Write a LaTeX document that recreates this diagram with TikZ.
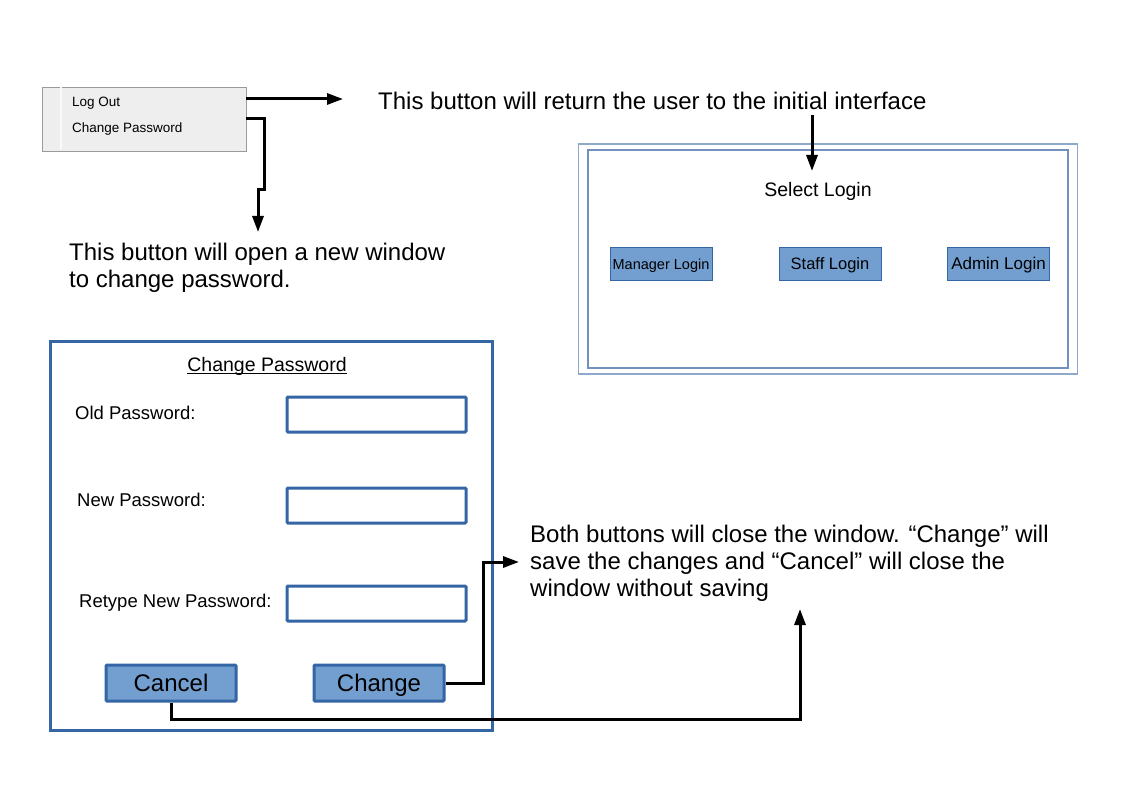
\documentclass[tikz,border=0pt]{standalone}
\usepackage[usenames,dvipsnames]{xcolor}
\usepackage{fontspec}
\setmainfont{Liberation Sans}
\usepackage{tikz}
\usetikzlibrary{arrows.meta,calc,positioning,shapes}
\definecolor{btnfill}{HTML}{729FCF}
\definecolor{btnline}{HTML}{3465A4}
\definecolor{winline}{HTML}{8EA9CC}
\definecolor{wininner}{HTML}{7391BC}
\definecolor{menufill}{HTML}{EEEEEE}
\definecolor{menuline}{HTML}{9A9A9A}

\begin{document}
\begin{tikzpicture}[x=1pt, y=-1pt,
		note/.style={anchor=west, align=left, inner sep=0pt, font=\fontsize{24}{27}\selectfont},
		menuitem/.style={anchor=base west, inner sep=0pt, font=\fontsize{13.5}{16}\selectfont},
		field/.style={rectangle, draw=btnline, line width=3pt, fill=white, minimum width=179pt, minimum height=35pt, rounded corners=1pt},
		fieldlbl/.style={anchor=west, inner sep=0pt, text height=13.3pt, text depth=0pt, font=\fontsize{18.5}{22}\selectfont},
		loginbtn/.style={rectangle, draw=btnline, line width=1pt, fill=btnfill, minimum width=102pt, minimum height=33pt, inner sep=0pt, text height=11pt, text depth=0pt},
		pwbtn/.style={rectangle, draw=btnline, line width=3pt, fill=btnfill, minimum width=130pt, minimum height=36pt, inner sep=0pt, rounded corners=1pt, text height=17.2pt, text depth=0pt, font=\fontsize{24}{27}\selectfont},
		arr/.style={line width=3pt, -{Triangle[length=16pt,width=11pt]}}
		]

		\useasboundingbox (0,0) rectangle (1123,794);

		% Menu
		\node[rectangle, draw=menuline, fill=menufill, minimum width=204pt, minimum height=64pt] (menu) at (144,119) {};
		\draw[white!95!gray, line width=1.5pt] (61,87.5) -- (61,150.5);
		\node[menuitem] (logout) at (72,106.5) {Log Out};
		\node[menuitem] (chpw) at (72,133) {Change Password};

		\node[note] (rettext) at (378,101) {This button will return the user to the initial interface};
		\node[note] (opentext) at (69,268) {This button will open a new window\\to change password.};

		\coordinate (logtip) at (343,99);
		\coordinate (chtip) at (258,232);
		\draw[arr] (menu.east |- logtip) -- (logtip);
		\draw[arr] (menu.east) -| (264,190) -- (258,190) -- (chtip);

		% Select Login
		\node[rectangle, draw=winline, line width=1.2pt, minimum width=499pt, minimum height=230pt] (loginwin) at (828,259) {};
		\node[rectangle, draw=wininner, line width=1.2pt, minimum width=480pt, minimum height=218pt] (loginin) at (828,259) {};
		\node[anchor=base, inner sep=0pt, font=\fontsize{19.5}{23}\selectfont] (sellogin) at (818,196.5) {Select Login};
		\node[loginbtn, font=\fontsize{14.5}{17}\selectfont] (manager) at (661,263.5) {Manager Login};
		\node[loginbtn, font=\fontsize{16.5}{19}\selectfont] (staff) at (830,263.5) {Staff Login};
		\node[loginbtn, font=\fontsize{17}{20}\selectfont] (admin) at (998.5,263.5) {Admin Login};

		\coordinate (rettip) at (812,171);
		\draw[arr] (rettip |- rettext.south) ++(0,5) -- (rettip);

		% Change Password
		\node[rectangle, draw=btnline, line width=3pt, minimum width=442pt, minimum height=389pt] (pwwin) at (271,535.5) {};
		\node[anchor=base, inner sep=0pt, font=\fontsize{19.5}{23}\selectfont] (pwtitle) at (267,371.5) {Change Password};
		\draw[line width=1.1pt] ([yshift=-2pt]pwtitle.base west) -- ([yshift=-2pt]pwtitle.base east);
		\node[fieldlbl] (oldlbl) at (75,413) {Old Password:};
		\node[fieldlbl] (newlbl) at (77,500) {New Password:};
		\node[fieldlbl] (retlbl) at (79,601) {Retype New Password:};
		\node[field] (oldbox) at (376.5,414.5) {};
		\node[field] (newbox) at (376.5,505.5) {};
		\node[field] (retbox) at (376.5,603.5) {};
		\node[pwbtn] (cancel) at (171,683) {Cancel};
		\node[pwbtn] (change) at (379,683) {Change};

		\node[note] (bothtext) at (530,563) {Both buttons will close the window. “Change” will\\save the changes and “Cancel” will close the\\window without saving};

		\coordinate (bothtip) at (519,562);
		\coordinate (cancelbend) at (800,719);
		\coordinate (canceltip) at (800,609);
		\draw[arr] (change.east) -- ++(38,0) |- (bothtip);
		\draw[arr] (cancel.south) |- (cancelbend) -- (canceltip);
	\end{tikzpicture}
\end{document}
